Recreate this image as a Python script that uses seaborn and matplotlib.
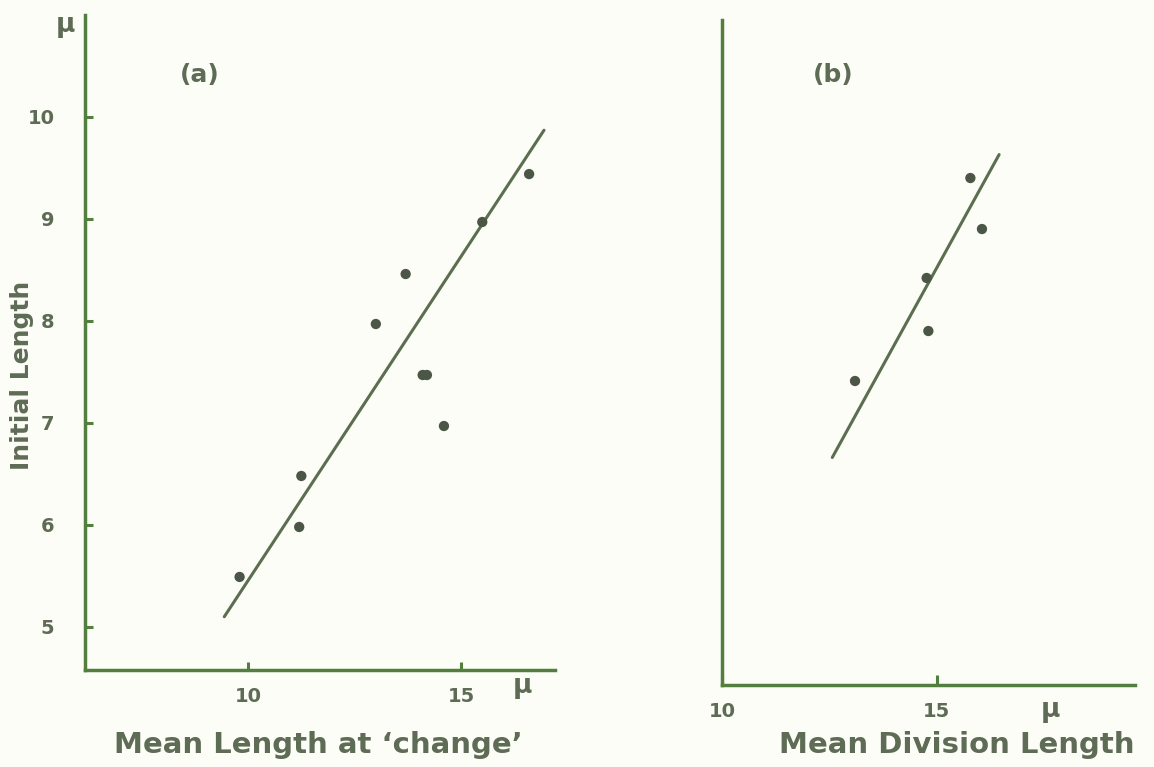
import matplotlib
matplotlib.use("Agg")
import matplotlib.pyplot as plt
import seaborn as sns
import pandas as pd

# ---- data ----
a_change_len = [9.8, 11.2, 11.25, 13.0, 13.7, 14.1, 14.2, 14.6, 15.5, 16.6]
a_initial_len = [5.49, 5.98, 6.48, 7.97, 8.46, 7.47, 7.47, 6.97, 8.97, 9.44]
a_fit_x = [9.44, 16.95]
a_fit_y = [5.10, 9.87]

b_div_len = [13.1, 14.77, 14.81, 15.79, 16.06]
b_initial_len = [7.41, 8.42, 7.90, 9.40, 8.90]
b_fit_x = [12.57, 16.46]
b_fit_y = [6.66, 9.63]

a_xticks = [10, 15]
a_yticks = [5, 6, 7, 8, 9, 10]
b_xticks = [10, 15]

sns.set_theme(style="white")
plt.rcParams['font.family'] = ['DejaVu Sans']

AXIS_C = "#527f3e"
TEXT_C = "#5e6b55"
DOT_C = "#4b5647"
LINE_C = "#5b6e4f"
BG = "#fdfdf8"

fig = plt.figure(figsize=(11.54, 7.67), dpi=100, facecolor=BG)
ax_a = fig.add_axes([0.0737, 0.1265, 0.4073, 0.854])
ax_b = fig.add_axes([0.6257, 0.107, 0.3579, 0.867])

df_a = pd.DataFrame({"x": a_change_len, "y": a_initial_len})
df_b = pd.DataFrame({"x": b_div_len, "y": b_initial_len})
fit_a = pd.DataFrame({"x": a_fit_x, "y": a_fit_y})
fit_b = pd.DataFrame({"x": b_fit_x, "y": b_fit_y})

for ax, df, fit in [(ax_a, df_a, fit_a), (ax_b, df_b, fit_b)]:
    ax.set_facecolor(BG)
    sns.lineplot(data=fit, x="x", y="y", ax=ax, color=LINE_C, linewidth=2.2,
                 sort=False, estimator=None)
    sns.scatterplot(data=df, x="x", y="y", ax=ax, color=DOT_C, s=55,
                    edgecolor="none", zorder=3)
    for s in ["top", "right"]:
        ax.spines[s].set_visible(False)
    for s in ["left", "bottom"]:
        ax.spines[s].set_color(AXIS_C)
        ax.spines[s].set_linewidth(2.5)
    ax.set_xlabel("")
    ax.set_ylabel("")

tick_font = dict(fontsize=14, fontweight="bold", color=TEXT_C)

# panel (a)
ax_a.set_xlim(6.17, 17.21)
ax_a.set_ylim(4.578, 11.0)
ax_a.set_xticks(a_xticks)
ax_a.set_yticks(a_yticks)
ax_a.set_xticklabels([str(t) for t in a_xticks], **tick_font)
ax_a.set_yticklabels([str(t) for t in a_yticks], **tick_font)
ax_a.tick_params(axis="both", direction="in", length=6, width=2.2,
                 color=AXIS_C, bottom=True, left=True)
ax_a.tick_params(axis="x", pad=12)
ax_a.tick_params(axis="y", pad=22)
ax_a.text(200 / 1154, 1 - 75 / 767, "(a)", transform=fig.transFigure,
          ha="center", va="center", fontsize=18, fontweight="bold", color=TEXT_C)
ax_a.text(65 / 1154, 1 - 25 / 767, "μ", transform=fig.transFigure,
          ha="center", va="center", fontsize=19, fontweight="bold", color=TEXT_C)
ax_a.text(522 / 1154, 1 - 686 / 767, "μ", transform=fig.transFigure,
          ha="center", va="center", fontsize=19, fontweight="bold", color=TEXT_C)
fig.text(318 / 1154, 1 - 745 / 767, "Mean Length at \u2018change\u2019",
         ha="center", va="center", fontsize=21, fontweight="bold", color=TEXT_C)
fig.text(22 / 1154, 1 - 375 / 767, "Initial Length", rotation=90,
         ha="center", va="center", fontsize=18, fontweight="bold", color=TEXT_C)

# panel (b)
ax_b.set_xlim(10.07, 19.63)
ax_b.set_ylim(4.43, 10.95)
ax_b.set_xticks(b_xticks)
ax_b.set_xticklabels([str(t) for t in b_xticks], **tick_font)
ax_b.set_yticks([])
ax_b.tick_params(axis="x", direction="in", length=7, width=2.2,
                 color=AXIS_C, bottom=True, pad=12)
ax_b.text(833 / 1154, 1 - 75 / 767, "(b)", transform=fig.transFigure,
          ha="center", va="center", fontsize=18, fontweight="bold", color=TEXT_C)
ax_b.text(1050 / 1154, 1 - 710 / 767, "μ", transform=fig.transFigure,
          ha="center", va="center", fontsize=19, fontweight="bold", color=TEXT_C)
fig.text(957 / 1154, 1 - 745 / 767, "Mean Division Length",
         ha="center", va="center", fontsize=21, fontweight="bold", color=TEXT_C)

fig.savefig("out.png", dpi=100, facecolor=BG)
